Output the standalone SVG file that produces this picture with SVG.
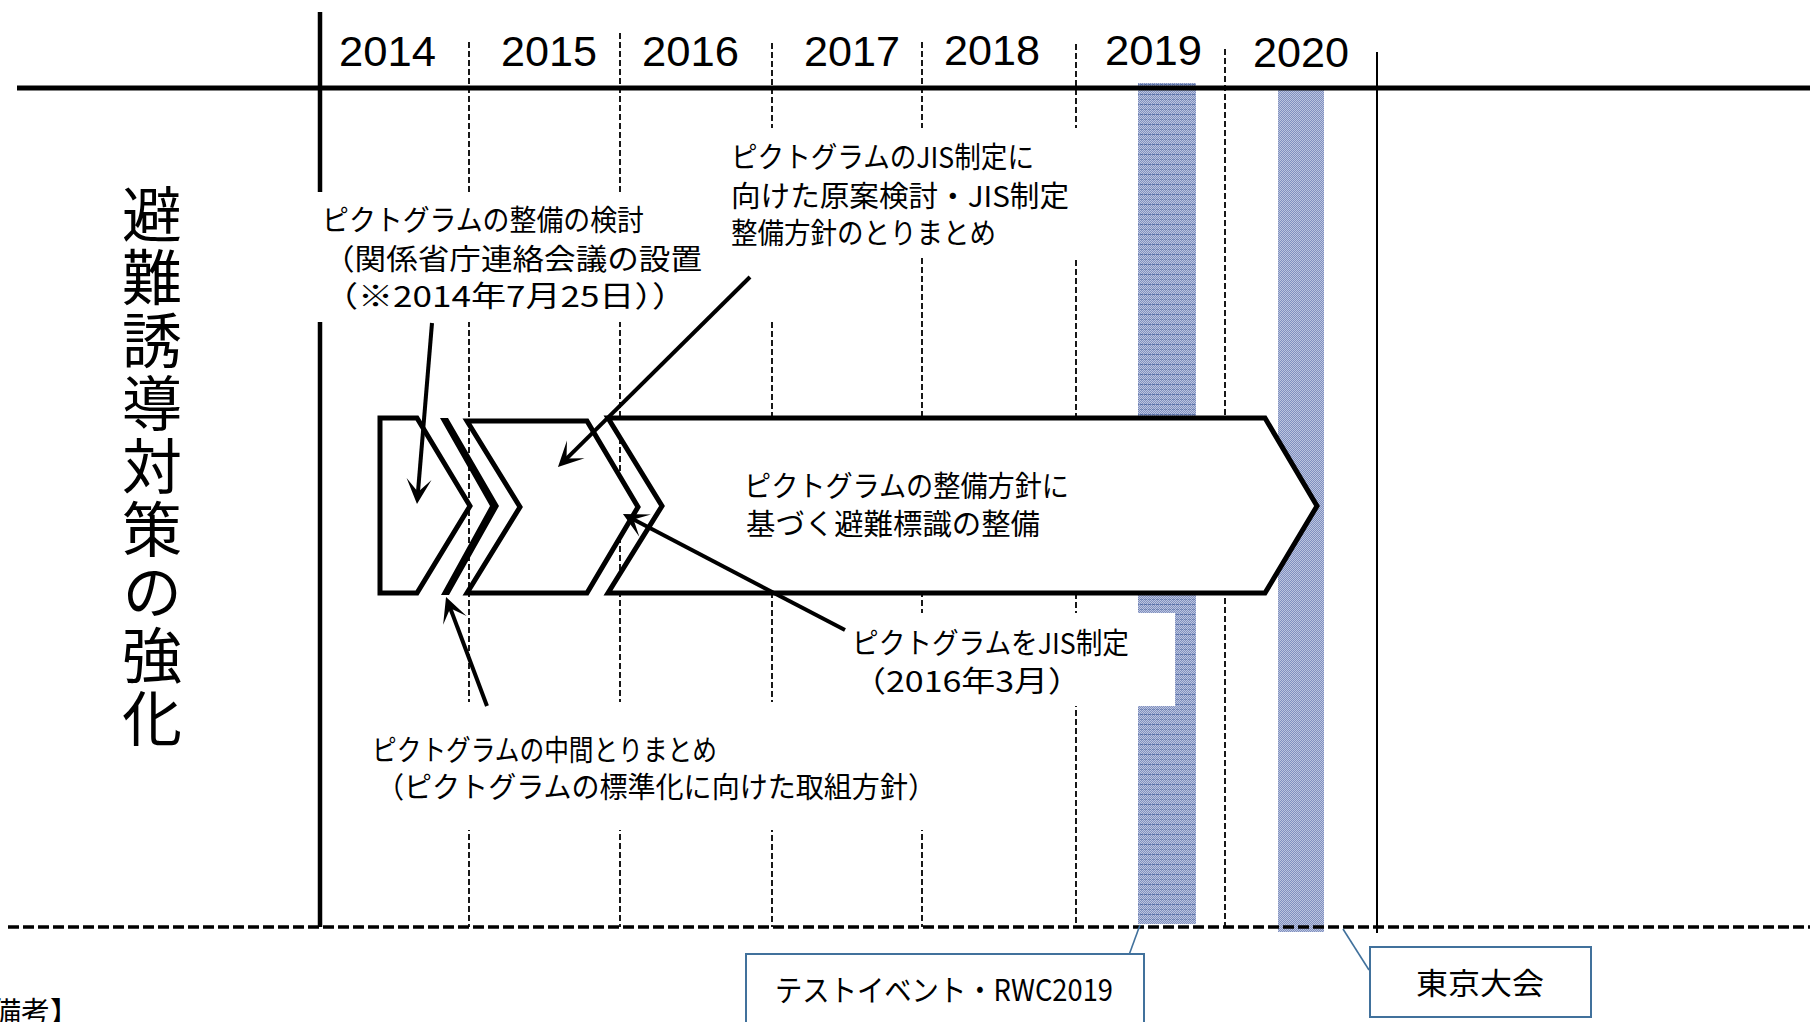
<svg xmlns="http://www.w3.org/2000/svg" width="1810" height="1022" viewBox="0 0 1810 1022">
<defs>
<style>
.dash{stroke:#000;stroke-width:1.8;stroke-dasharray:6 3;fill:none}
.t{font-family:"Noto Sans CJK JP","Noto Sans",sans-serif;font-size:29px;fill:#000}
.yr{font-family:"Liberation Sans",Arial,sans-serif;font-size:43px;fill:#000}
.ttl{font-family:"Noto Sans CJK JP",sans-serif;font-size:60px;fill:#000;writing-mode:vertical-rl;letter-spacing:3px}
.shape{fill:#fff;stroke:#000;stroke-width:5;stroke-linejoin:miter}
.arrow{stroke:#000;stroke-width:4;fill:none;marker-end:url(#ah)}
.cl{stroke:#41719C;stroke-width:1.6;fill:none}
.cbox{fill:#fff;stroke:#41719C;stroke-width:2}
.wb{fill:#fff}
</style>
<pattern id="chk" width="2" height="2" patternUnits="userSpaceOnUse">
<rect width="2" height="2" fill="#8090c0"/>
<rect x="0" y="0" width="1" height="1" fill="#bcc5df"/>
<rect x="1" y="1" width="1" height="1" fill="#bcc5df"/>
</pattern>
<pattern id="hl" width="4" height="10" patternUnits="userSpaceOnUse">
<rect x="0" y="4" width="3" height="1" fill="#2f4c8f" opacity="0.6"/>
<rect x="0" y="9" width="3" height="1" fill="#2f4c8f" opacity="0.35"/>
</pattern>
<marker id="ah" viewBox="0 0 26 26" refX="15" refY="13" markerWidth="26" markerHeight="26" markerUnits="userSpaceOnUse" orient="auto">
<path d="M1,0.5 L26,13 L1,25.5 L14,13 Z" fill="#000"/>
</marker>
</defs>
<rect width="1810" height="1022" fill="#fff"/>

<g id="bands">
<rect x="1138" y="83" width="58" height="841" fill="url(#chk)"/>
<rect x="1138" y="83" width="58" height="841" fill="url(#hl)"/>
<rect x="1278" y="89" width="46" height="843" fill="url(#chk)"/>
</g>

<g id="grid">
<line class="dash" x1="469" y1="42" x2="469" y2="927"/>
<line class="dash" x1="620" y1="33" x2="620" y2="927"/>
<line class="dash" x1="772" y1="43" x2="772" y2="927"/>
<line class="dash" x1="922" y1="42" x2="922" y2="927"/>
<line class="dash" x1="1076" y1="44" x2="1076" y2="927"/>
<line class="dash" x1="1225" y1="49" x2="1225" y2="927"/>
<line x1="1377" y1="52" x2="1377" y2="933" stroke="#000" stroke-width="2"/>
<line x1="320" y1="12" x2="320" y2="927" stroke="#000" stroke-width="4.5"/>
</g>

<g id="label-backgrounds">
<rect class="wb" x="316" y="192" width="474" height="130"/>
<rect class="wb" x="720" y="128" width="380" height="130"/>
<rect class="wb" x="840" y="613" width="335" height="93"/>
<rect class="wb" x="330" y="702" width="670" height="128"/>
</g>

<g id="axes">
<line x1="17" y1="88" x2="1810" y2="88" stroke="#000" stroke-width="5"/>
<line x1="8" y1="927" x2="1810" y2="927" stroke="#000" stroke-width="3.5" stroke-dasharray="11 4"/>
</g>

<g id="years">
<text class="yr" x="339" y="66" textLength="97" lengthAdjust="spacingAndGlyphs">2014</text>
<text class="yr" x="501" y="66" textLength="96" lengthAdjust="spacingAndGlyphs">2015</text>
<text class="yr" x="642" y="66" textLength="97" lengthAdjust="spacingAndGlyphs">2016</text>
<text class="yr" x="804" y="66" textLength="96" lengthAdjust="spacingAndGlyphs">2017</text>
<text class="yr" x="944" y="65" textLength="96" lengthAdjust="spacingAndGlyphs">2018</text>
<text class="yr" x="1105" y="65" textLength="97" lengthAdjust="spacingAndGlyphs">2019</text>
<text class="yr" x="1253" y="67" textLength="96" lengthAdjust="spacingAndGlyphs">2020</text>
</g>

<g id="title">
<text class="ttl" x="152" y="184">避難誘導対策の強化</text>
</g>

<g id="phase1">
<polygon class="shape" points="380,418 417,418 470,506 417,593 380,593"/>
</g>
<g id="separator">
<polygon points="440,418 448,418 499,506 449,595 441,595 490,506" fill="#000"/>
</g>
<g id="phase2">
<polygon class="shape" points="467,421 587,421 638,507 587,593 467,593 520,507"/>
</g>
<g id="phase3">
<polygon class="shape" points="608,418 1265,418 1317,506 1265,593 608,593 662,506"/>
<text class="t"><tspan x="744" y="497" textLength="325" lengthAdjust="spacingAndGlyphs">ピクトグラムの整備方針に</tspan><tspan x="746" y="535" textLength="294" lengthAdjust="spacingAndGlyphs">基づく避難標識の整備</tspan></text>
</g>

<g id="note-study">
<text class="t"><tspan x="322" y="231" textLength="322" lengthAdjust="spacingAndGlyphs">ピクトグラムの整備の検討</tspan><tspan x="323" y="270" textLength="379" lengthAdjust="spacingAndGlyphs">（関係省庁連絡会議の設置</tspan><tspan x="323" y="307" textLength="364" lengthAdjust="spacingAndGlyphs">（※2014年7月25日））</tspan></text>
</g>

<g id="note-jis-draft">
<text class="t"><tspan x="731" y="168" textLength="303" lengthAdjust="spacingAndGlyphs">ピクトグラムのJIS制定に</tspan><tspan x="731" y="207" textLength="338" lengthAdjust="spacingAndGlyphs">向けた原案検討・JIS制定</tspan><tspan x="731" y="244" textLength="265" lengthAdjust="spacingAndGlyphs">整備方針のとりまとめ</tspan></text>
</g>

<g id="note-jis">
<text class="t"><tspan x="852" y="654" textLength="277" lengthAdjust="spacingAndGlyphs">ピクトグラムをJIS制定</tspan><tspan x="852" y="692" textLength="230" lengthAdjust="spacingAndGlyphs">（2016年3月）</tspan></text>
</g>

<g id="note-interim">
<text class="t"><tspan x="372" y="761" textLength="345" lengthAdjust="spacingAndGlyphs">ピクトグラムの中間とりまとめ</tspan><tspan x="376" y="798" textLength="560" lengthAdjust="spacingAndGlyphs">（ピクトグラムの標準化に向けた取組方針）</tspan></text>
</g>

<g id="connectors">
<line class="arrow" x1="432" y1="323" x2="417.9" y2="493"/>
<line class="arrow" x1="750" y1="277" x2="565.8" y2="459.3"/>
<line class="arrow" x1="845" y1="630" x2="632.7" y2="519.1"/>
<line class="arrow" x1="487" y1="706" x2="449.9" y2="607.3"/>
<line class="cl" x1="1140" y1="925" x2="1129" y2="955"/>
<line class="cl" x1="1343" y1="929" x2="1369" y2="970"/>
</g>

<g id="test-event">
<rect class="cbox" x="746" y="954" width="398" height="90"/>
<text class="t" x="775" y="1001" style="font-size:30px" textLength="338" lengthAdjust="spacingAndGlyphs">テストイベント・RWC2019</text>
</g>

<g id="tokyo">
<rect class="cbox" x="1370" y="947" width="221" height="70"/>
<text class="t" x="1416" y="994" style="font-size:30px" textLength="128" lengthAdjust="spacingAndGlyphs">東京大会</text>
</g>

<g id="remarks">
<text class="t" x="-37" y="1023">【備考】</text>
</g>
</svg>
